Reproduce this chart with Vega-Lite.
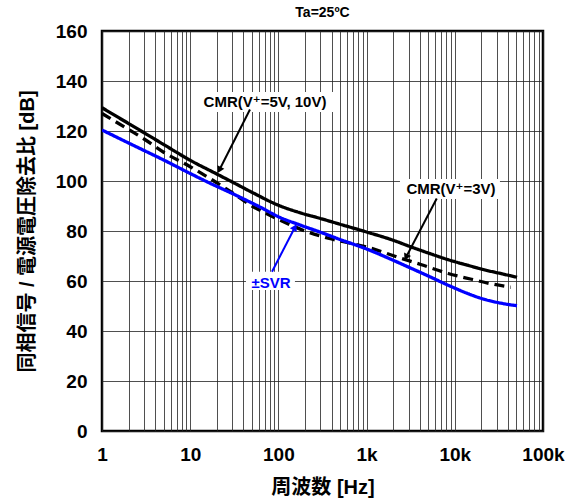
{
  "$schema": "https://vega.github.io/schema/vega-lite/v6.json",
  "width": 441,
  "height": 400,
  "autosize": {"type": "none"},
  "padding": {"left": 102, "top": 31, "right": 32, "bottom": 69},
  "background": "white",
  "title": {"text": "Ta=25ºC", "fontSize": 14, "fontWeight": "bold", "font": "Liberation Sans", "anchor": "middle", "offset": 2, "color": "black"},
  "datasets": {
    "curves": [
      {"series": "CMR 5V/10V", "f": 1, "db": 129.3},
      {"series": "CMR 5V/10V", "f": 2, "db": 123.0},
      {"series": "CMR 5V/10V", "f": 3, "db": 119.3},
      {"series": "CMR 5V/10V", "f": 5, "db": 114.6},
      {"series": "CMR 5V/10V", "f": 10, "db": 108.3},
      {"series": "CMR 5V/10V", "f": 20, "db": 102.8},
      {"series": "CMR 5V/10V", "f": 30, "db": 99.6},
      {"series": "CMR 5V/10V", "f": 50, "db": 95.5},
      {"series": "CMR 5V/10V", "f": 100, "db": 90.3},
      {"series": "CMR 5V/10V", "f": 176, "db": 87.3},
      {"series": "CMR 5V/10V", "f": 300, "db": 85.0},
      {"series": "CMR 5V/10V", "f": 500, "db": 82.7},
      {"series": "CMR 5V/10V", "f": 1000, "db": 79.6},
      {"series": "CMR 5V/10V", "f": 2000, "db": 76.3},
      {"series": "CMR 5V/10V", "f": 3100, "db": 73.8},
      {"series": "CMR 5V/10V", "f": 5000, "db": 71.2},
      {"series": "CMR 5V/10V", "f": 8100, "db": 68.7},
      {"series": "CMR 5V/10V", "f": 15000, "db": 66.0},
      {"series": "CMR 5V/10V", "f": 21000, "db": 64.6},
      {"series": "CMR 5V/10V", "f": 35000, "db": 62.8},
      {"series": "CMR 5V/10V", "f": 50700, "db": 61.5},
      {"series": "CMR 3V", "f": 1, "db": 127.0},
      {"series": "CMR 3V", "f": 2, "db": 120.6},
      {"series": "CMR 3V", "f": 3, "db": 116.8},
      {"series": "CMR 3V", "f": 5, "db": 111.5},
      {"series": "CMR 3V", "f": 10, "db": 105.7},
      {"series": "CMR 3V", "f": 20, "db": 99.3},
      {"series": "CMR 3V", "f": 30, "db": 95.3},
      {"series": "CMR 3V", "f": 50, "db": 90.0},
      {"series": "CMR 3V", "f": 70, "db": 87.3},
      {"series": "CMR 3V", "f": 100, "db": 84.6},
      {"series": "CMR 3V", "f": 150, "db": 81.8},
      {"series": "CMR 3V", "f": 200, "db": 80.0},
      {"series": "CMR 3V", "f": 300, "db": 78.0},
      {"series": "CMR 3V", "f": 400, "db": 76.8},
      {"series": "CMR 3V", "f": 617, "db": 75.3},
      {"series": "CMR 3V", "f": 1000, "db": 73.6},
      {"series": "CMR 3V", "f": 2400, "db": 69.2},
      {"series": "CMR 3V", "f": 4200, "db": 66.5},
      {"series": "CMR 3V", "f": 8400, "db": 63.0},
      {"series": "CMR 3V", "f": 15500, "db": 60.7},
      {"series": "CMR 3V", "f": 26400, "db": 58.8},
      {"series": "CMR 3V", "f": 43000, "db": 57.5},
      {"series": "SVR", "f": 1, "db": 120.4},
      {"series": "SVR", "f": 2, "db": 115.2},
      {"series": "SVR", "f": 3, "db": 112.2},
      {"series": "SVR", "f": 5, "db": 108.4},
      {"series": "SVR", "f": 10, "db": 103.0},
      {"series": "SVR", "f": 16.8, "db": 99.1},
      {"series": "SVR", "f": 30, "db": 95.0},
      {"series": "SVR", "f": 50, "db": 91.2},
      {"series": "SVR", "f": 65, "db": 89.2},
      {"series": "SVR", "f": 100, "db": 85.7},
      {"series": "SVR", "f": 176, "db": 82.4},
      {"series": "SVR", "f": 300, "db": 79.5},
      {"series": "SVR", "f": 500, "db": 76.6},
      {"series": "SVR", "f": 1000, "db": 72.8},
      {"series": "SVR", "f": 2000, "db": 68.3},
      {"series": "SVR", "f": 3100, "db": 65.3},
      {"series": "SVR", "f": 5000, "db": 62.0},
      {"series": "SVR", "f": 8800, "db": 58.0},
      {"series": "SVR", "f": 14000, "db": 55.0},
      {"series": "SVR", "f": 21000, "db": 52.8},
      {"series": "SVR", "f": 35000, "db": 51.0},
      {"series": "SVR", "f": 50700, "db": 50.1}
    ],
    "boxes": [
      {"f": 11.9, "f2": 427, "db": 127.6, "db2": 135.6},
      {"f": 2390, "f2": 32500, "db": 92.8, "db2": 100.8},
      {"f": 42.9, "f2": 154, "db": 56.4, "db2": 63.7}
    ],
    "arrows": [
      {"f": 47.6, "db": 128.6, "f2": 21.4, "db2": 104.4, "col": "black", "ang": 207},
      {"f": 6240, "db": 93.0, "f2": 2800, "db2": 69.5, "col": "black", "ang": 207},
      {"f": 84.6, "db": 63.7, "f2": 154, "db2": 81.5, "col": "#0000ff", "ang": 29}
    ],
    "labels": [
      {"f": 70.5, "db": 131.8, "text": "CMR(V⁺=5V, 10V)", "col": "black"},
      {"f": 9060, "db": 96.8, "text": "CMR(V⁺=3V)", "col": "black"},
      {"f": 82.4, "db": 59.4, "text": "±SVR", "col": "#0000ff"}
    ]
  },
  "layer": [
    {
      "data": {"name": "curves"},
      "mark": {"type": "line", "strokeWidth": 3.3, "clip": true, "interpolate": "monotone"},
      "encoding": {
        "x": {
          "field": "f", "type": "quantitative",
          "scale": {"type": "log", "domain": [1, 100000], "nice": false},
          "axis": {
            "title": "周波数 [Hz]",
            "values": [1,2,3,4,5,6,7,8,9,10,20,30,40,50,60,70,80,90,100,200,300,400,500,600,700,800,900,1000,2000,3000,4000,5000,6000,7000,8000,9000,10000,20000,30000,40000,50000,60000,70000,80000,90000,100000],
            "labelExpr": "datum.value == 1 ? '1' : datum.value == 10 ? '10' : datum.value == 100 ? '100' : datum.value == 1000 ? '1k' : datum.value == 10000 ? '10k' : datum.value == 100000 ? '100k' : ''",
            "labelOverlap": false,
            "labelFlush": false,
            "labelPadding": 14,
            "titlePadding": 13
          }
        },
        "y": {
          "field": "db", "type": "quantitative",
          "scale": {"domain": [0, 160], "nice": false},
          "axis": {
            "title": "同相信号 / 電源電圧除去比 [dB]",
            "values": [0, 20, 40, 60, 80, 100, 120, 140, 160],
            "labelPadding": 15,
            "titlePadding": 18
          }
        },
        "color": {"field": "series", "type": "nominal", "scale": {"domain": ["CMR 5V/10V", "CMR 3V", "SVR"], "range": ["#000000", "#000000", "#0000ff"]}, "legend": null},
        "strokeDash": {"field": "series", "type": "nominal", "scale": {"domain": ["CMR 5V/10V", "CMR 3V", "SVR"], "range": [[1, 0], [10, 6], [1, 0]]}, "legend": null},
        "order": {"field": "f", "type": "quantitative"}
      }
    },
    {
      "data": {"name": "boxes"},
      "mark": {"type": "rect", "fill": "white", "stroke": null},
      "encoding": {
        "x": {"field": "f", "type": "quantitative"},
        "x2": {"field": "f2"},
        "y": {"field": "db", "type": "quantitative"},
        "y2": {"field": "db2"}
      }
    },
    {
      "data": {"name": "arrows"},
      "mark": {"type": "rule", "strokeWidth": 2},
      "encoding": {
        "x": {"field": "f", "type": "quantitative"},
        "x2": {"field": "f2"},
        "y": {"field": "db", "type": "quantitative"},
        "y2": {"field": "db2"},
        "color": {"field": "col", "type": "nominal", "scale": null}
      }
    },
    {
      "data": {"name": "arrows"},
      "mark": {"type": "point", "shape": "triangle-up", "filled": true, "size": 60, "opacity": 1},
      "encoding": {
        "x": {"field": "f2", "type": "quantitative"},
        "y": {"field": "db2", "type": "quantitative"},
        "angle": {"field": "ang", "type": "quantitative", "scale": null},
        "color": {"field": "col", "type": "nominal", "scale": null}
      }
    },
    {
      "data": {"name": "labels"},
      "mark": {"type": "text", "fontSize": 15, "fontWeight": "bold", "font": "Liberation Sans, DejaVu Sans", "align": "center", "baseline": "middle"},
      "encoding": {
        "x": {"field": "f", "type": "quantitative"},
        "y": {"field": "db", "type": "quantitative"},
        "text": {"field": "text"},
        "color": {"field": "col", "type": "nominal", "scale": null}
      }
    }
  ],
  "config": {
    "view": {"stroke": "black", "strokeWidth": 2.5},
    "axis": {
      "domain": false,
      "ticks": false,
      "tickSize": 0,
      "grid": true,
      "gridColor": "#222222",
      "gridWidth": 0.8,
      "gridOpacity": 1,
      "labelFont": "Liberation Sans",
      "labelFontSize": 19,
      "labelFontWeight": "bold",
      "labelColor": "black",
      "titleFont": "Liberation Sans, Noto Sans CJK JP",
      "titleFontSize": 20,
      "titleFontWeight": "bold",
      "titleColor": "black"
    }
  }
}
